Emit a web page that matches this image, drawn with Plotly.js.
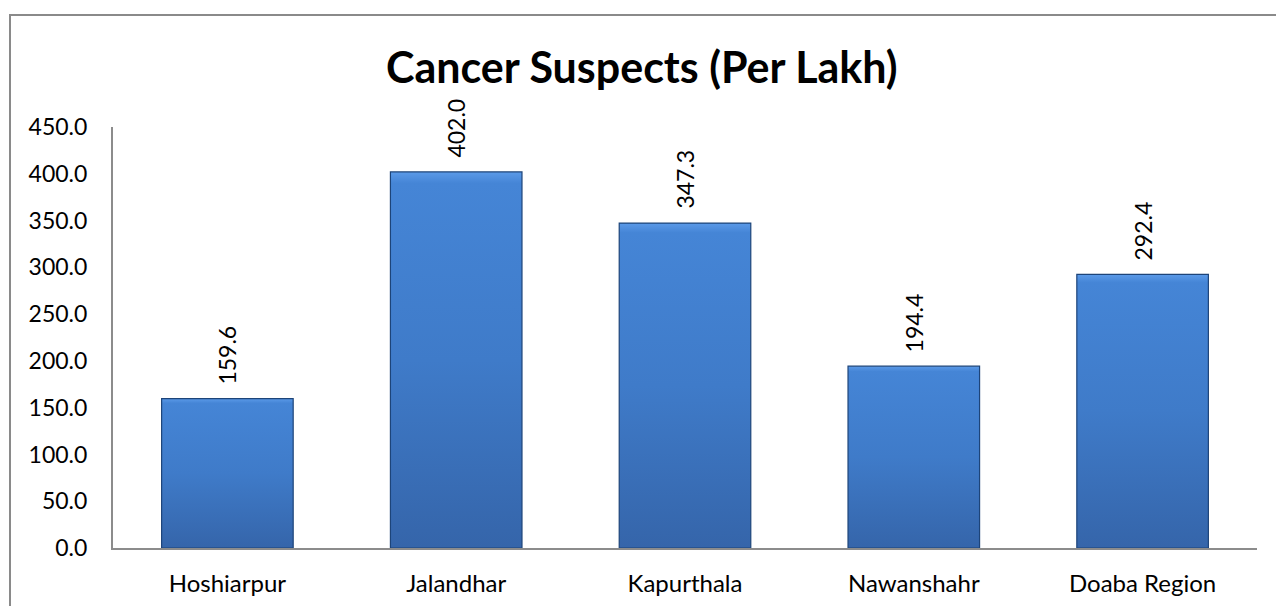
<!DOCTYPE html>
<html>
<head>
<meta charset="utf-8">
<script src="https://cdn.plot.ly/plotly-3.0.1.min.js"></script>
<style>
html,body{margin:0;padding:0;background:#fff;overflow:hidden;}
#wrap{position:relative;width:1276px;height:606px;}
#chart{width:1276px;height:606px;}
#frame{position:absolute;left:9px;top:14px;width:1300px;height:700px;border:2px solid #8a8a8a;pointer-events:none;box-sizing:border-box;}
</style>
</head>
<body>
<div id="wrap"><div id="chart"></div><div id="frame"></div></div>
<script>
const categories = ["Hoshiarpur", "Jalandhar", "Kapurthala", "Nawanshahr", "Doaba Region"];
const values = [159.6, 402.0, 347.3, 194.4, 292.4];
const yTicks = [0, 50, 100, 150, 200, 250, 300, 350, 400, 450];
const chartTitle = "Cancer Suspects (Per Lakh)";

const FONT = "Lato, 'Open Sans', sans-serif";

const trace = {
  type: "bar",
  x: categories,
  y: values,
  marker: {color: "#3c77c4", line: {color: "#1d4479", width: 1.2}},
  hoverinfo: "x+y"
};

const annotations = categories.map((c, i) => ({
  x: c, y: values[i], xref: "x", yref: "y",
  text: values[i].toFixed(1),
  textangle: -90, showarrow: false,
  yanchor: "bottom", xanchor: "center", yshift: 12,
  font: {family: FONT, size: 23, color: "#000"}
}));

const layout = {
  width: 1276, height: 606,
  margin: {l: 113, r: 19, t: 127, b: 58},
  paper_bgcolor: "#fff", plot_bgcolor: "#fff",
  showlegend: false,
  bargap: 0.425,
  title: {
    text: "<b>" + chartTitle + "</b>",
    font: {family: FONT, size: 43, color: "#000"},
    x: 0.503, xanchor: "center", xref: "container",
    y: 1 - 68/606, yanchor: "middle", yref: "container"
  },
  xaxis: {
    type: "category",
    showline: true, linecolor: "#8c8c8c", linewidth: 2,
    showgrid: false, zeroline: false, ticks: "",
    ticklabelstandoff: 13,
    tickfont: {family: FONT, size: 24, color: "#000"}
  },
  yaxis: {
    range: [0, 450],
    tickvals: yTicks,
    ticktext: yTicks.map(v => v.toFixed(1)),
    showline: true, linecolor: "#8c8c8c", linewidth: 2,
    showgrid: false, zeroline: false, ticks: "",
    ticklabelstandoff: 19,
    tickfont: {family: FONT, size: 23, color: "#000"}
  },
  annotations: annotations
};

Plotly.newPlot("chart", [trace], layout, {displayModeBar: false, staticPlot: true}).then(gd => {
  const svg = gd.querySelector("svg.main-svg");
  const ns = "http://www.w3.org/2000/svg";
  let defs = svg.querySelector("defs");
  if (!defs) { defs = document.createElementNS(ns, "defs"); svg.insertBefore(defs, svg.firstChild); }
  const grad = document.createElementNS(ns, "linearGradient");
  grad.setAttribute("id", "barGrad");
  grad.setAttribute("x1", "0"); grad.setAttribute("y1", "0");
  grad.setAttribute("x2", "0"); grad.setAttribute("y2", "1");
  [["0", "#5b9ae8"], ["0.03", "#4585d6"], ["0.5", "#3f7bc9"], ["1", "#3565aa"]].forEach(([o, c]) => {
    const s = document.createElementNS(ns, "stop");
    s.setAttribute("offset", o); s.setAttribute("stop-color", c);
    grad.appendChild(s);
  });
  defs.appendChild(grad);
  gd.querySelectorAll(".bars .point path").forEach(p => {
    p.style.fill = "url(#barGrad)";
  });
});
</script>
</body>
</html>
